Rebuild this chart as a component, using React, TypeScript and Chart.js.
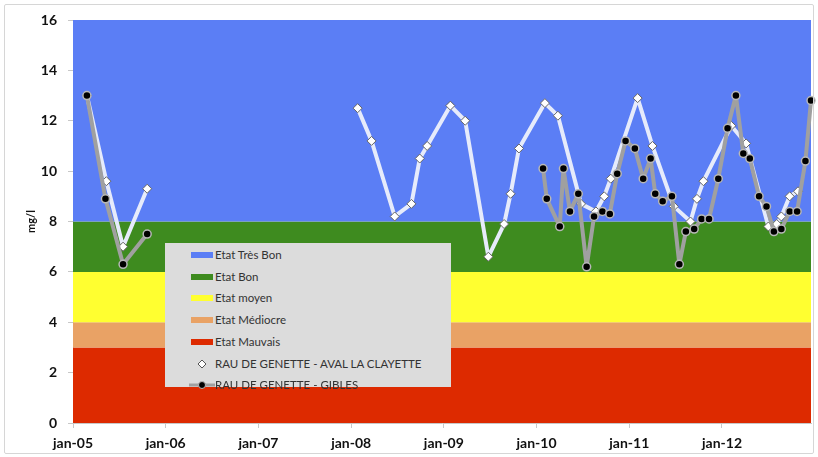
import React, { useEffect, useRef } from 'react';
import { Chart, registerables } from 'chart.js';

Chart.register(...registerables);

// ---- Axis definitions ----
const X_MIN = 2005;
const X_MAX = 2012.96;
const YEAR_TICKS = [2005, 2006, 2007, 2008, 2009, 2010, 2011, 2012];
const YEAR_LABELS = ['jan-05', 'jan-06', 'jan-07', 'jan-08', 'jan-09', 'jan-10', 'jan-11', 'jan-12'];
const Y_MIN = 0;
const Y_MAX = 16;
const Y_STEP = 2;
const Y_TITLE = 'mg/l';

// ---- Quality bands ----
const BAND_LABELS = ['Etat Très Bon', 'Etat Bon', 'Etat moyen', 'Etat Médiocre', 'Etat Mauvais'];
const BAND_UPPER = [16, 8, 6, 4, 3];
const BAND_LOWER = [8, 6, 4, 3, 0];
const BAND_COLORS = ['#5b7ef5', '#3e8b1f', '#ffff30', '#e9a265', '#dd2a00'];

// ---- Series (dates as decimal years) ----
const AVAL_LABEL = 'RAU DE GENETTE - AVAL LA CLAYETTE';
const AVAL_DATES = [
  2005.15, 2005.36, 2005.54, 2005.80, 2007.0,
  2008.07, 2008.22, 2008.47, 2008.65, 2008.74, 2008.82,
  2009.07, 2009.23, 2009.48, 2009.65, 2009.72, 2009.81,
  2010.09, 2010.23, 2010.48, 2010.64, 2010.73, 2010.80,
  2011.09, 2011.25, 2011.48, 2011.66, 2011.73, 2011.80,
  2012.10, 2012.26, 2012.50, 2012.59, 2012.64, 2012.73, 2012.82,
];
const AVAL_VALUES = [
  13.0, 9.6, 7.0, 9.3, null,
  12.5, 11.2, 8.2, 8.7, 10.5, 11.0,
  12.6, 12.0, 6.6, 7.9, 9.1, 10.9,
  12.7, 12.2, 8.7, 8.4, 9.0, 9.7,
  12.9, 11.0, 8.6, 8.0, 8.9, 9.6,
  11.8, 11.1, 7.8, 7.9, 8.2, 9.0, 9.2,
];

const GIBLES_LABEL = 'RAU DE GENETTE - GIBLES';
const GIBLES_DATES = [
  2005.15, 2005.35, 2005.54, 2005.80, 2007.0,
  2010.07, 2010.11, 2010.25, 2010.29, 2010.36, 2010.45, 2010.54, 2010.62, 2010.71, 2010.79, 2010.87, 2010.96,
  2011.06, 2011.15, 2011.23, 2011.28, 2011.36, 2011.46, 2011.54, 2011.61, 2011.70, 2011.78, 2011.86, 2011.96,
  2012.06, 2012.15, 2012.23, 2012.30, 2012.40, 2012.48, 2012.56, 2012.64, 2012.73, 2012.81, 2012.90, 2012.96,
];
const GIBLES_VALUES = [
  13.0, 8.9, 6.3, 7.5, null,
  10.1, 8.9, 7.8, 10.1, 8.4, 9.1, 6.2, 8.2, 8.4, 8.3, 9.9, 11.2,
  10.9, 9.7, 10.5, 9.1, 8.8, 9.0, 6.3, 7.6, 7.7, 8.1, 8.1, 9.7,
  11.7, 13.0, 10.7, 10.5, 9.0, 8.6, 7.6, 7.7, 8.4, 8.4, 10.4, 12.8,
];

const FONT = 'Lato, "Open Sans", "DejaVu Sans", sans-serif';

function toPoints(xs: number[], ys: (number | null)[]) {
  return xs.map((x, i) => ({ x, y: ys[i] }));
}

export default function App() {
  const canvasRef = useRef<HTMLCanvasElement>(null);

  useEffect(() => {
    const canvas = canvasRef.current;
    if (!canvas) return;
    Chart.defaults.font.family = FONT;

    const bandSets = BAND_LABELS.map((label, i) => ({
      label,
      data: [
        { x: X_MIN, y: BAND_UPPER[i] },
        { x: X_MAX, y: BAND_UPPER[i] },
      ],
      borderWidth: 0,
      borderColor: 'rgba(0,0,0,0)',
      backgroundColor: BAND_COLORS[i],
      pointRadius: 0,
      fill: { value: BAND_LOWER[i] },
      order: 10 + i,
    }));

    const chart = new Chart(canvas, {
      type: 'line',
      data: {
        datasets: [
          ...bandSets,
          {
            label: AVAL_LABEL,
            data: toPoints(AVAL_DATES, AVAL_VALUES),
            borderColor: '#e6ebfb',
            borderWidth: 4,
            borderJoinStyle: 'round',
            pointStyle: 'rectRot',
            pointRadius: 4.5,
            pointBackgroundColor: '#ffffff',
            pointBorderColor: '#666666',
            pointBorderWidth: 1,
            fill: false,
            spanGaps: false,
            clip: false,
            order: 2,
          },
          {
            label: GIBLES_LABEL,
            data: toPoints(GIBLES_DATES, GIBLES_VALUES),
            borderColor: '#a0a0a0',
            borderWidth: 4,
            borderJoinStyle: 'round',
            pointStyle: 'circle',
            pointRadius: 4,
            pointBackgroundColor: '#000000',
            pointBorderColor: '#b8b8b8',
            pointBorderWidth: 1.5,
            fill: false,
            spanGaps: false,
            clip: false,
            order: 1,
          },
        ] as any,
      },
      options: {
        animation: false,
        responsive: false,
        layout: { padding: { left: 0, top: 20, right: 7, bottom: 0 } },
        plugins: {
          legend: { display: false },
          tooltip: { enabled: false },
        },
        scales: {
          x: {
            type: 'linear',
            min: X_MIN,
            max: X_MAX,
            afterBuildTicks: (s: any) => {
              s.ticks = YEAR_TICKS.map((v) => ({ value: v }));
            },
            afterFit: (s: any) => {
              s.height = 34;
            },
            grid: { drawOnChartArea: false, drawTicks: true, tickLength: 5, color: '#c8c8c8' },
            border: { color: '#c8c8c8' },
            ticks: {
              autoSkip: false,
              maxRotation: 0,
              padding: 7,
              color: '#111111',
              font: { size: 14, weight: 'bold', family: FONT },
              callback: (_v: any, i: number) => YEAR_LABELS[i] ?? '',
            },
          },
          y: {
            type: 'linear',
            min: Y_MIN,
            max: Y_MAX,
            afterFit: (s: any) => {
              s.width = 73;
            },
            grid: { drawOnChartArea: false, drawTicks: true, tickLength: 5, color: '#c8c8c8' },
            border: { color: '#c8c8c8' },
            ticks: {
              stepSize: Y_STEP,
              padding: 11,
              color: '#111111',
              font: { size: 14, weight: 'bold', family: FONT },
            },
            title: {
              display: true,
              text: Y_TITLE,
              color: '#111111',
              font: { size: 11, weight: 'bold', family: FONT },
              padding: { top: 25, bottom: 0 },
            },
          },
        },
      } as any,
    });

    return () => chart.destroy();
  }, []);

  const rowTop = (i: number) => 12 + i * 21.7;
  const textStyle: React.CSSProperties = {
    position: 'absolute',
    left: 50,
    fontFamily: FONT,
    fontSize: 11.5,
    color: '#333333',
    lineHeight: '14px',
    whiteSpace: 'nowrap',
    transform: 'translateY(-7px)',
  };

  return (
    <div style={{ position: 'absolute', left: 0, top: 0, width: 818, height: 457, background: '#ffffff', overflow: 'hidden' }}>
      <canvas ref={canvasRef} width={818} height={457} style={{ display: 'block', width: 818, height: 457 }} />
      <div
        style={{
          position: 'absolute',
          left: 4,
          top: 4,
          width: 810,
          height: 450,
          boxSizing: 'border-box',
          border: '1px solid #d6d6d6',
          borderRadius: 2,
          pointerEvents: 'none',
        }}
      />
      <div
        style={{
          position: 'absolute',
          left: 165,
          top: 243,
          width: 286,
          height: 144,
          background: '#dcdcdc',
        }}
      >
        {BAND_LABELS.map((label, i) => (
          <React.Fragment key={label}>
            <div
              style={{
                position: 'absolute',
                left: 26,
                top: rowTop(i) - 3,
                width: 22,
                height: 6,
                background: BAND_COLORS[i],
              }}
            />
            <div style={{ ...textStyle, top: rowTop(i) }}>{label}</div>
          </React.Fragment>
        ))}
        <svg style={{ position: 'absolute', left: 26, top: rowTop(5) - 6 }} width={24} height={12}>
          <polygon points="11,2 15,6 11,10 7,6" fill="#ffffff" stroke="#555555" strokeWidth={1} />
        </svg>
        <div style={{ ...textStyle, top: rowTop(5) }}>{AVAL_LABEL}</div>
        <svg style={{ position: 'absolute', left: 24, top: rowTop(6) - 6 }} width={26} height={12}>
          <line x1={0} y1={6} x2={26} y2={6} stroke="#a0a0a0" strokeWidth={3} />
          <circle cx={13} cy={6} r={3.5} fill="#000000" stroke="#b8b8b8" strokeWidth={1} />
        </svg>
        <div style={{ ...textStyle, top: rowTop(6) }}>{GIBLES_LABEL}</div>
      </div>
    </div>
  );
}
